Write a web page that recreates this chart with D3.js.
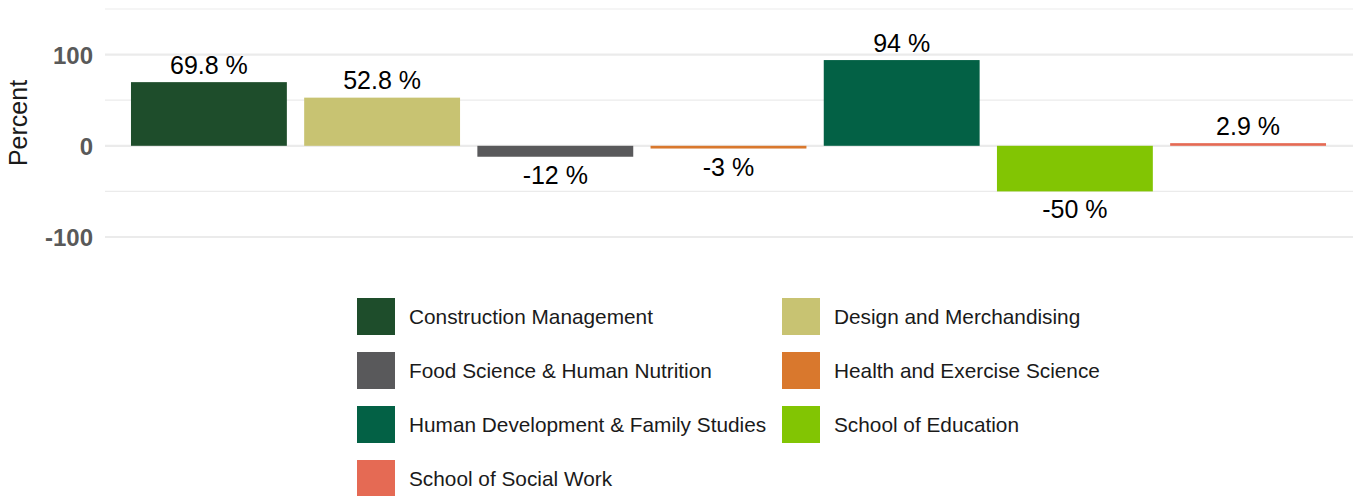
<!DOCTYPE html>
<html>
<head>
<meta charset="utf-8">
<script src="https://cdn.jsdelivr.net/npm/d3@7"></script>
<style>
  body { margin: 0; background: #fff; }
  svg { display: block; font-family: "Liberation Sans", Arial, sans-serif; }
</style>
</head>
<body>
<script>
// data
var categories = [
  "Construction Management",
  "Design and Merchandising",
  "Food Science & Human Nutrition",
  "Health and Exercise Science",
  "Human Development & Family Studies",
  "School of Education",
  "School of Social Work"
];
var percentChange = [69.8, 52.8, -12, -3, 94, -50, 2.9];
var barColors = ["#1E4D2B", "#C8C372", "#59595B", "#D9782D", "#036145", "#82C503", "#E56A54"];
var majorTicks = [-100, 0, 100];
var minorTicks = [-50, 50, 150];

var svgWidth = 1353;
var svgHeight = 496;

var svg = d3.select("body").append("svg")
  .attr("width", svgWidth)
  .attr("height", svgHeight);

// panel extents
var panel = { left: 105, right: 1352 };

var xScale = d3.scaleBand()
  .domain(categories)
  .range([panel.left, panel.right])
  .paddingInner(0.1)
  .paddingOuter(0.15);

var yScale = d3.scaleLinear()
  .domain([-100, 150])
  .range([237, 9]);

var color = d3.scaleOrdinal().domain(categories).range(barColors);

// gridlines (minor first, then major)
svg.append("g").selectAll("line")
  .data(minorTicks)
  .enter().append("line")
  .attr("x1", panel.left).attr("x2", svgWidth)
  .attr("y1", d => yScale(d)).attr("y2", d => yScale(d))
  .attr("stroke", "#ebebeb")
  .attr("stroke-width", 1.2);

svg.append("g").selectAll("line")
  .data(majorTicks)
  .enter().append("line")
  .attr("x1", panel.left).attr("x2", svgWidth)
  .attr("y1", d => yScale(d)).attr("y2", d => yScale(d))
  .attr("stroke", "#ebebeb")
  .attr("stroke-width", 2.2);

// y axis tick labels (plain hyphen for negatives, like the original)
var yAxis = d3.axisLeft(yScale)
  .tickValues(majorTicks)
  .tickFormat(d => String(d))
  .tickSize(0)
  .tickPadding(0);
var yAxisG = svg.append("g")
  .attr("transform", "translate(" + (panel.left - 12) + ",0)")
  .call(yAxis);
yAxisG.select(".domain").remove();
yAxisG.selectAll("text")
  .attr("font-family", "Liberation Sans, Arial, sans-serif")
  .attr("font-size", 24)
  .attr("font-weight", "bold")
  .attr("fill", "#595959")
  .attr("dy", "0.36em");

// y axis title
svg.append("text")
  .attr("transform", "translate(27," + yScale(25) + ") rotate(-90)")
  .attr("text-anchor", "middle")
  .attr("font-size", 25)
  .attr("fill", "#1a1a1a")
  .text("Percent");

// bars
var bars = categories.map((c, i) => ({ cat: c, value: percentChange[i] }));

svg.append("g").selectAll("rect")
  .data(bars)
  .enter().append("rect")
  .attr("x", d => xScale(d.cat))
  .attr("width", xScale.bandwidth())
  .attr("y", d => yScale(Math.max(0, d.value)))
  .attr("height", d => Math.abs(yScale(d.value) - yScale(0)))
  .attr("fill", d => color(d.cat));

// value labels
svg.append("g").selectAll("text")
  .data(bars)
  .enter().append("text")
  .attr("x", d => xScale(d.cat) + xScale.bandwidth() / 2)
  .attr("y", d => d.value >= 0 ? yScale(d.value) - 8.5 : yScale(d.value) + 27)
  .attr("text-anchor", "middle")
  .attr("font-size", 25)
  .attr("fill", "#000")
  .text(d => d.value + " %");

// legend, two columns filled by row
var legendCols = [357, 782];
var legendTop = 298;
var rowStep = 54;

var legend = svg.append("g").selectAll("g")
  .data(categories)
  .enter().append("g")
  .attr("transform", (d, i) => "translate(" + legendCols[i % 2] + "," + (legendTop + Math.floor(i / 2) * rowStep) + ")");

legend.append("rect")
  .attr("width", 38)
  .attr("height", 37)
  .attr("fill", d => color(d));

legend.append("text")
  .attr("x", 52)
  .attr("y", 26)
  .attr("font-size", 20.8)
  .attr("fill", "#1a1a1a")
  .text(d => d);
</script>
</body>
</html>
